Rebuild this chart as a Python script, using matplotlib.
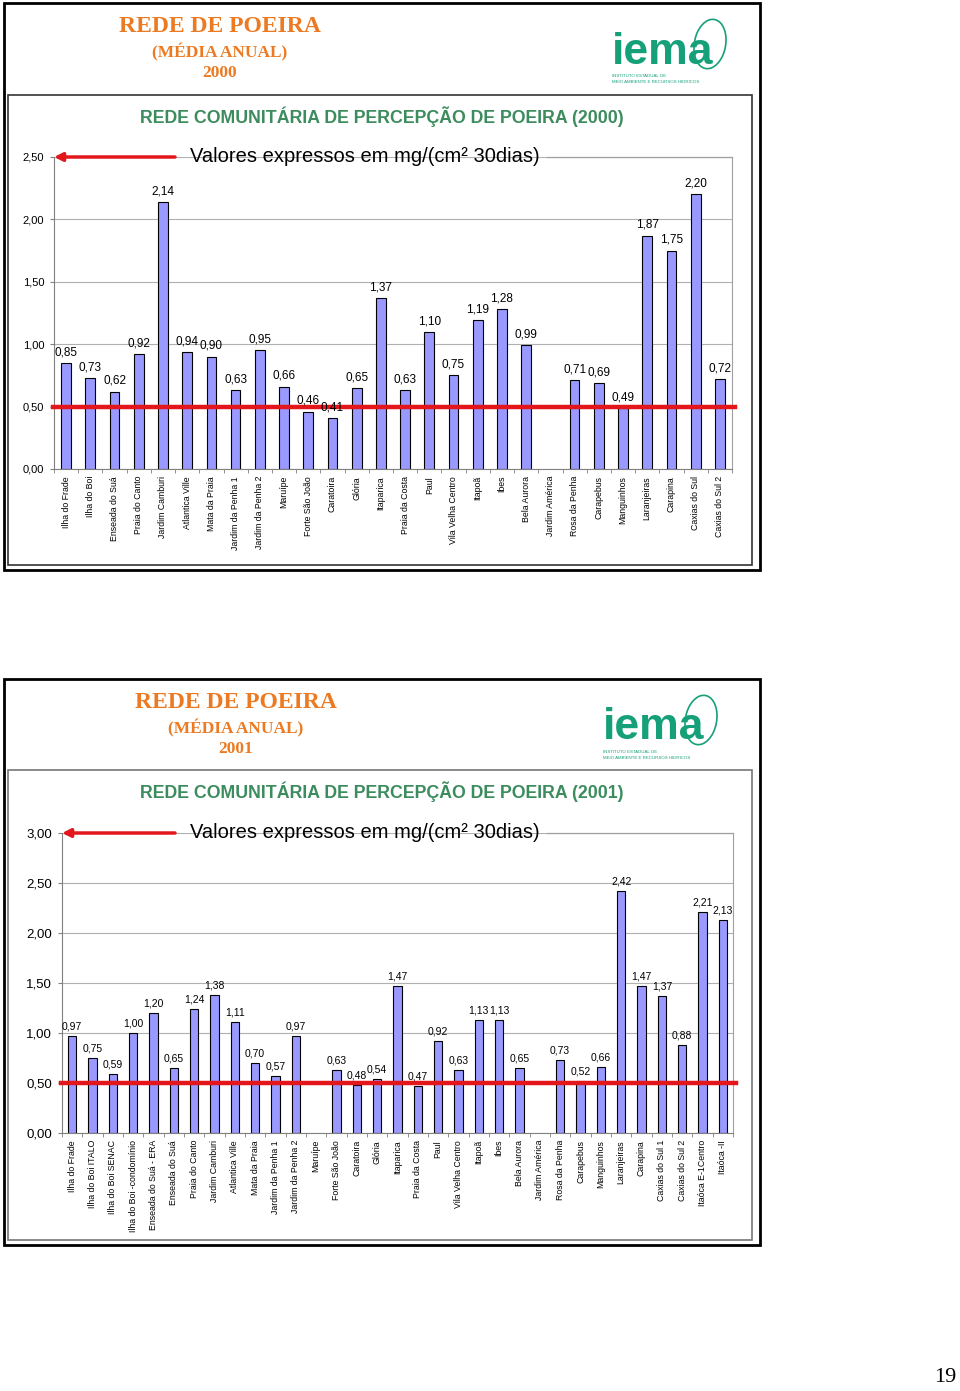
import numpy as np
import matplotlib
matplotlib.use('Agg')
import matplotlib.pyplot as plt
from matplotlib.patches import Rectangle, Ellipse

# Data (None = station without data)
sites_2000 = ['Ilha do Frade', 'Ilha do Boi', 'Enseada do Suá', 'Praia do Canto',
              'Jardim Camburi', 'Atlantica Ville', 'Mata da Praia', 'Jardim da Penha 1',
              'Jardim da Penha 2', 'Maruípe', 'Forte São João', 'Caratoira', 'Glória',
              'Itaparica', 'Praia da Costa', 'Paul', 'Vila Velha Centro', 'Itapoã', 'Ibes',
              'Bela Aurora', 'Jardim América', 'Rosa da Penha', 'Carapebus', 'Manguinhos',
              'Laranjeiras', 'Carapina', 'Caxias do Sul', 'Caxias do Sul 2']
values_2000 = [0.85, 0.73, 0.62, 0.92, 2.14, 0.94, 0.90, 0.63, 0.95, 0.66, 0.46, 0.41,
               0.65, 1.37, 0.63, 1.10, 0.75, 1.19, 1.28, 0.99, None, 0.71, 0.69, 0.49,
               1.87, 1.75, 2.20, 0.72]

sites_2001 = ['Ilha do Frade', 'Ilha do Boi ITALO', 'Ilha do Boi SENAC', 'Ilha do Boi -condomínio',
              'Enseada do Suá - ERA', 'Enseada do Suá', 'Praia do Canto', 'Jardim Camburi',
              'Atlantica Ville', 'Mata da Praia', 'Jardim da Penha 1', 'Jardim da Penha 2',
              'Maruípe', 'Forte São João', 'Caratoira', 'Glória', 'Itaparica', 'Praia da Costa',
              'Paul', 'Vila Velha Centro', 'Itapoã', 'Ibes', 'Bela Aurora', 'Jardim América',
              'Rosa da Penha', 'Carapebus', 'Manguinhos', 'Laranjeiras', 'Carapina',
              'Caxias do Sul 1', 'Caxias do Sul 2', 'Itaóca E-1Centro', 'Itaóca -II']
values_2001 = [0.97, 0.75, 0.59, 1.00, 1.20, 0.65, 1.24, 1.38, 1.11, 0.70, 0.57, 0.97,
               None, 0.63, 0.48, 0.54, 1.47, 0.47, 0.92, 0.63, 1.13, 1.13, 0.65, None,
               0.73, 0.52, 0.66, 2.42, 1.47, 1.37, 0.88, 2.21, 2.13]

limit = 0.50
unit_text = 'Valores expressos em mg/(cm² 30dias)'

W, H = 960, 1391
fig = plt.figure(figsize=(W / 100, H / 100), dpi=100)
plt.rcParams['font.family'] = ['Liberation Sans', 'DejaVu Sans']

ORANGE = '#EC7A22'
GREEN = '#3C8C5E'
LOGO = '#16A07A'
BAR = '#9999FF'
RED = '#E3161C'


def fx(x):
    return x / W


def fy(y):
    return 1 - y / H


def box(l, t, r, b, lw, color):
    fig.patches.append(Rectangle((fx(l), fy(b)), (r - l) / W, (b - t) / H,
                                 transform=fig.transFigure, fill=False, lw=lw, edgecolor=color))


def header(cx, top, year, logo_x, logo_y):
    kw = dict(ha='center', va='center', color=ORANGE, family='Liberation Serif', weight='bold')
    fig.text(fx(cx), fy(top), 'REDE DE POEIRA', fontsize=17, **kw)
    fig.text(fx(cx), fy(top + 25), '(MÉDIA ANUAL)', fontsize=12.5, **kw)
    fig.text(fx(cx), fy(top + 46), year, fontsize=12.5, **kw)
    # iema logo
    fig.text(fx(logo_x), fy(logo_y), 'iema', fontsize=32, weight='bold', color=LOGO,
             ha='left', va='center', family='Liberation Sans')
    fig.patches.append(Ellipse((fx(logo_x + 98), fy(logo_y - 8)), 30 / W, 52 / H, angle=-35,
                               transform=fig.transFigure, fill=False, edgecolor=LOGO, lw=1.2))
    fig.text(fx(logo_x), fy(logo_y + 24), 'INSTITUTO ESTADUAL DE', fontsize=3.2, color=LOGO,
             ha='left', va='center')
    fig.text(fx(logo_x), fy(logo_y + 30), 'MEIO AMBIENTE E RECURSOS HÍDRICOS', fontsize=3.2,
             color=LOGO, ha='left', va='center')


def chart(l, t, r, b, sites, values, ymax, title, title_y, tick_fs, label_fs):
    ax = fig.add_axes([fx(l), fy(b), (r - l) / W, (b - t) / H])
    x = np.arange(len(sites))
    vals = np.array([np.nan if v is None else v for v in values])
    ax.bar(x, vals, width=0.4, color=BAR, edgecolor='black', lw=0.8, zorder=2)
    for xi, v in zip(x, values):
        if v is None:
            continue
        ax.text(xi, v + ymax * 0.015, f'{v:.2f}'.replace('.', ','), ha='center', va='bottom',
                fontsize=label_fs, zorder=4)
    ax.axhline(limit, xmin=-0.002, xmax=1.005, color=RED, lw=3.2, zorder=3, clip_on=False)

    ax.set_xlim(-0.5, len(sites) - 0.5)
    ax.set_ylim(0, ymax)
    ticks = np.arange(0, ymax + 0.001, 0.5)
    ax.set_yticks(ticks)
    ax.set_yticklabels([f'{v:.2f}'.replace('.', ',') for v in ticks], fontsize=tick_fs)
    ax.yaxis.grid(True, color='#B0B0B0', lw=0.8, zorder=0)
    ax.set_axisbelow(True)
    ax.set_xticks(x)
    ax.set_xticklabels(sites, rotation=90, fontsize=6.3, va='top')
    ax.set_xticks(np.arange(-0.5, len(sites)), minor=True)
    ax.tick_params(axis='x', which='major', length=0, pad=5)
    ax.tick_params(axis='x', which='minor', length=3, color='#808080')
    ax.tick_params(axis='y', length=3, color='#808080', pad=4)

    ax.spines['top'].set_visible(False)
    for s in ['left', 'bottom']:
        ax.spines[s].set_color('#808080')
    ax.spines['right'].set_color('#A0A0A0')
    # partial top border behind the unit text
    ax.plot([(547 - l) / (r - l), 1], [1, 1], transform=ax.transAxes, color='#A0A0A0',
            lw=0.9, clip_on=False)
    ax.text((190 - l) / (r - l), 1, unit_text, transform=ax.transAxes, fontsize=14.5,
            ha='left', va='center')
    ax.annotate('', xy=(-0.5, ymax), xytext=((175 - l) / (r - l) * len(sites) - 0.5, ymax),
                xycoords='data', annotation_clip=False,
                arrowprops=dict(arrowstyle='-|>', color=RED, lw=2.5, mutation_scale=12,
                                shrinkA=0, shrinkB=0))
    fig.text(fx(382), fy(title_y), title, fontsize=12.8, weight='bold', color=GREEN,
             ha='center', va='center')
    return ax


# Panel 2000
box(4, 3, 760, 570, 2.0, 'black')
box(8, 95, 752, 565, 1.2, '#333333')
header(220, 27, '2000', 612, 52)
chart(54, 157, 732, 469, sites_2000, values_2000, 2.5,
      'REDE COMUNITÁRIA DE PERCEPÇÃO DE POEIRA (2000)', 117, 8, 8.5)

# Panel 2001
box(4, 679, 760, 1245, 2.0, 'black')
box(8, 770, 752, 1240, 1.2, '#777777')
header(236, 703, '2001', 603, 728)
chart(62, 833, 733, 1133, sites_2001, values_2001, 3.0,
      'REDE COMUNITÁRIA DE PERCEPÇÃO DE POEIRA (2001)', 792, 9.5, 7.5)

fig.text(fx(945), fy(1378), '19', fontsize=16, family='Liberation Serif', ha='center', va='center')

fig.savefig('out.png', dpi=100)
